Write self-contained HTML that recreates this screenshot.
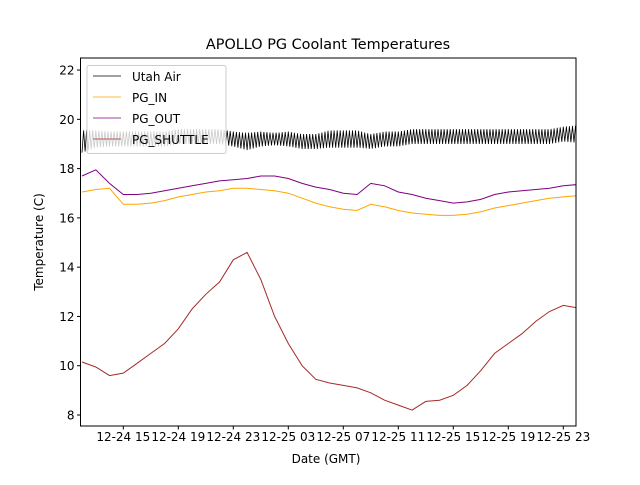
<!DOCTYPE html>
<html><head><meta charset="utf-8"><style>
body{margin:0;background:#fff}
text{font-family:"DejaVu Sans","Liberation Sans",sans-serif;fill:#000}
</style></head><body>
<svg id="c" width="640" height="480" xmlns="http://www.w3.org/2000/svg"></svg>
<script>
const hours=[12,13,14,15,16,17,18,19,20,21,22,23,24,25,26,27,28,29,30,31,32,33,34,35,36,37,38,39,40,41,42,43,44,45,46,47,48];
const shuttle=[10.15,9.95,9.6,9.7,10.1,10.5,10.9,11.5,12.3,12.9,13.4,14.3,14.6,13.5,12.0,10.9,10.0,9.45,9.3,9.2,9.1,8.9,8.6,8.4,8.2,8.55,8.6,8.8,9.2,9.8,10.5,10.9,11.3,11.8,12.2,12.45,12.35];
const pgIn=[17.05,17.15,17.2,16.55,16.55,16.6,16.7,16.85,16.95,17.05,17.1,17.2,17.2,17.15,17.1,17.0,16.8,16.6,16.45,16.35,16.3,16.55,16.45,16.3,16.2,16.15,16.1,16.1,16.15,16.25,16.4,16.5,16.6,16.7,16.8,16.85,16.9];
const pgOut=[17.7,17.95,17.4,16.95,16.95,17.0,17.1,17.2,17.3,17.4,17.5,17.55,17.6,17.7,17.7,17.6,17.4,17.25,17.15,17.0,16.95,17.4,17.3,17.05,16.95,16.8,16.7,16.6,16.65,16.75,16.95,17.05,17.1,17.15,17.2,17.3,17.35];
const utahMid=[19.1,19.2,19.2,19.2,19.2,19.2,19.2,19.3,19.3,19.3,19.3,19.2,19.1,19.2,19.2,19.2,19.1,19.1,19.2,19.2,19.2,19.1,19.2,19.2,19.3,19.3,19.3,19.3,19.3,19.3,19.3,19.3,19.3,19.3,19.3,19.4,19.4];
const utahAmp=[0.45,0.35,0.3,0.3,0.3,0.3,0.3,0.3,0.3,0.3,0.3,0.3,0.35,0.3,0.25,0.3,0.3,0.3,0.35,0.35,0.35,0.3,0.3,0.3,0.3,0.3,0.3,0.3,0.3,0.3,0.3,0.3,0.3,0.3,0.3,0.3,0.35];
const yTicks=[8,10,12,14,16,18,20,22];
const xTicks=[15,19,23,27,31,35,39,43,47];
const xLabels=["12-24 15","12-24 19","12-24 23","12-25 03","12-25 07","12-25 11","12-25 15","12-25 19","12-25 23"];

const L=80.5,R=576,T=58,B=426;
const X=h=>123.3+(h-15)*13.75;
const Y=v=>415-(v-8)*24.64;
const svg=document.getElementById('c');const NS='http://www.w3.org/2000/svg';
function mk(tag,a,p){const e=document.createElementNS(NS,tag);for(const k in a)e.setAttribute(k,a[k]);(p||svg).appendChild(e);return e;}
const cp=mk('clipPath',{id:'cp'});mk('rect',{x:L,y:T,width:R-L,height:B-T},cp);
const g=mk('g',{'clip-path':'url(#cp)'});
function line(arr,color,name){
  const d=arr.map((v,i)=>(i?'L':'M')+X(hours[i]).toFixed(1)+','+Y(v).toFixed(1)).join('');
  const p=mk('path',{d:d,fill:'none',stroke:color,'stroke-width':1},g);
  
  
}
let d='';const steps=9;
for(let i=0;i<hours.length-1;i++){for(let s=0;s<steps;s++){const f=s/steps;const m=utahMid[i]+(utahMid[i+1]-utahMid[i])*f;const a=utahAmp[i]+(utahAmp[i+1]-utahAmp[i])*f;const v=m+((i*steps+s)%2?a:-a);d+=(d?'L':'M')+X(hours[i]+f).toFixed(1)+','+Y(v).toFixed(1);}}
const ua=mk('path',{d:d,fill:'none',stroke:'#000','stroke-width':0.8},g);


line(pgIn,'orange','pg-in-line');
line(pgOut,'purple','pg-out-line');
line(shuttle,'#a52a2a','pg-shuttle-line');
const fr=mk('rect',{x:L,y:T,width:R-L,height:B-T,fill:'none',stroke:'#000','stroke-width':1});


yTicks.forEach(v=>{mk('line',{x1:L-3.5,x2:L,y1:Y(v),y2:Y(v),stroke:'#000'});const t=mk('text',{x:L-6,y:Y(v)+4.5,'text-anchor':'end','font-size':12});t.textContent=v;

});
xTicks.forEach((h,i)=>{mk('line',{x1:X(h),x2:X(h),y1:B,y2:B+3.5,stroke:'#000'});const t=mk('text',{x:X(h),y:B+15,'text-anchor':'middle','font-size':12});t.textContent=xLabels[i];

});
</script>
<svg width="640" height="480" style="position:absolute;left:0;top:0" xmlns="http://www.w3.org/2000/svg">
<text x="328" y="49" text-anchor="middle" font-size="14.4">APOLLO PG Coolant Temperatures</text>
<text x="326" y="463" text-anchor="middle" font-size="12">Date (GMT)</text>
<text transform="translate(43,242) rotate(-90)" text-anchor="middle" font-size="12">Temperature (C)</text>
<g>
<rect x="87" y="65.5" width="139" height="88" rx="2" fill="#fff" fill-opacity="0.8" stroke="#ccc"/>
<line x1="93" x2="121" y1="76" y2="76" stroke="#000" stroke-width="0.8"/><text x="132" y="81" font-size="12">Utah Air</text>
<line x1="93" x2="121" y1="97" y2="97" stroke="orange" stroke-width="0.8"/><text x="132" y="102" font-size="12">PG_IN</text>
<line x1="93" x2="121" y1="118" y2="118" stroke="purple" stroke-width="0.8"/><text x="132" y="123" font-size="12">PG_OUT</text>
<line x1="93" x2="121" y1="139" y2="139" stroke="#a52a2a" stroke-width="0.8"/><text x="132" y="144" font-size="12">PG_SHUTTLE</text>
</g>
</svg>
</body></html>
